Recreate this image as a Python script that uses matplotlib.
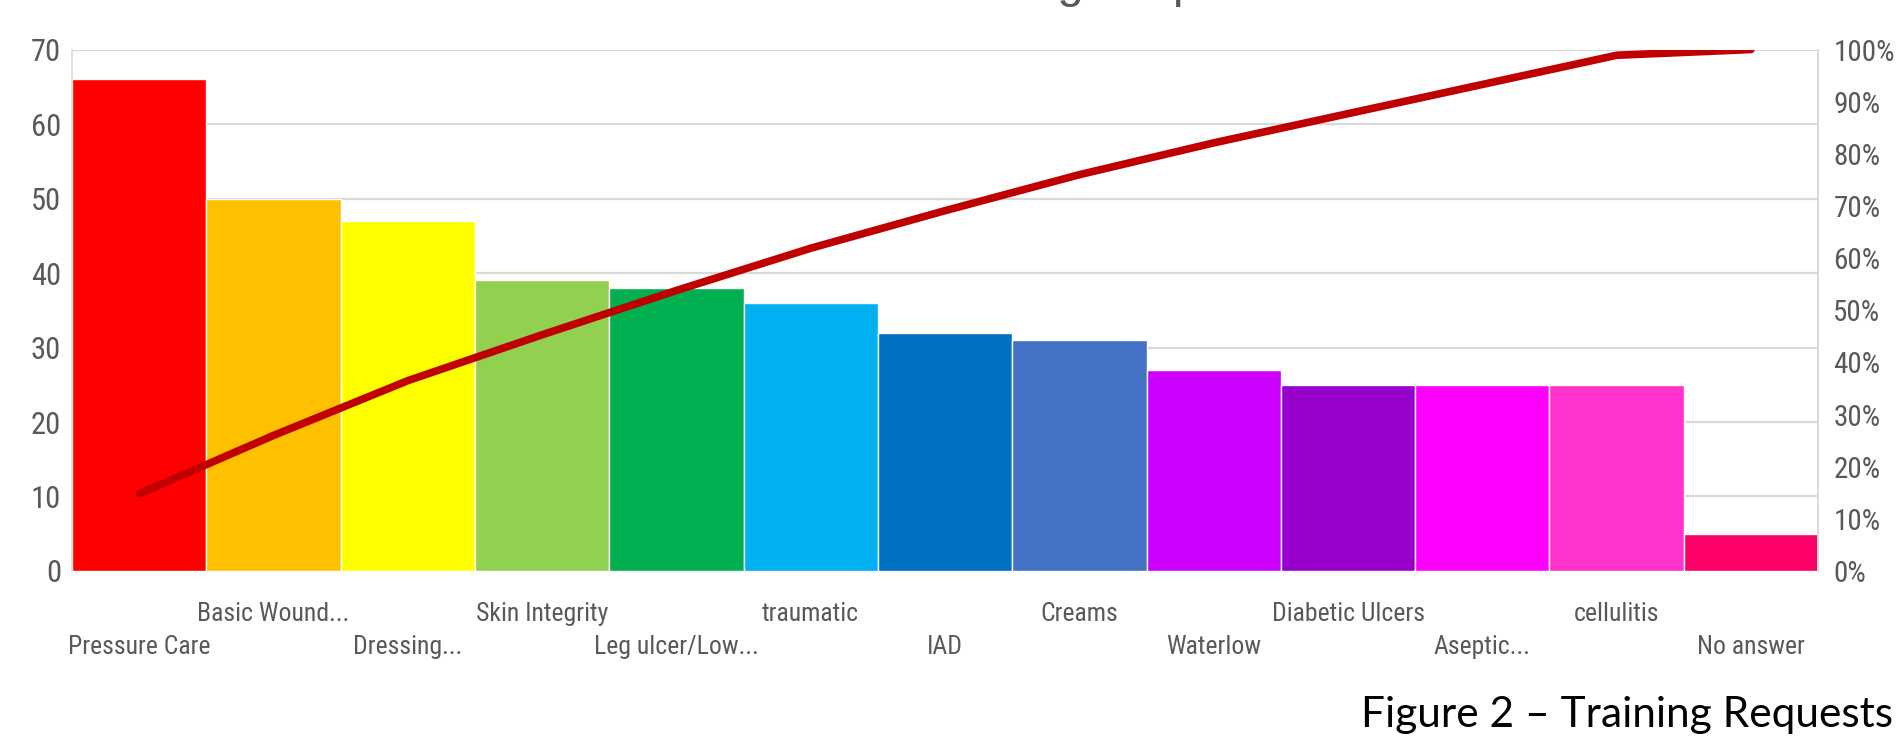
import matplotlib
matplotlib.use("Agg")
import matplotlib.pyplot as plt
from matplotlib import font_manager
from matplotlib.ticker import FixedLocator

# ------------------------------------------------------
# data
# ------------------------------------------------------
topics = ["Pressure Care", "Basic Wound...", "Dressing...", "Skin Integrity",
          "Leg ulcer/Low...", "traumatic", "IAD", "Creams", "Waterlow",
          "Diabetic Ulcers", "Aseptic...", "cellulitis", "No answer"]
requests = [66, 50, 47, 39, 38, 36, 32, 31, 27, 25, 25, 25, 5]
cum_share = [14.8, 26.0, 36.5, 45.3, 53.8, 61.9, 69.1, 76.0, 82.1, 87.7, 93.3, 98.9, 100.0]
bar_colors = ["#FF0000", "#FFC000", "#FFFF00", "#92D050", "#00B050", "#00B0F0",
              "#0070C0", "#4472C4", "#CC00FF", "#9900CC", "#FF00FF", "#FF33CC", "#FF0066"]
left_ticks = [0, 10, 20, 30, 40, 50, 60, 70]
right_ticks = [0, 10, 20, 30, 40, 50, 60, 70, 80, 90, 100]

# look for a narrow / condensed regular sans for the axis text
def find_narrow():
    prefs = ["liberationsansnarrow-regular", "robotocondensed-regular",
             "dejavusanscondensed.ttf", "notosans-condensed", "opensans-condensed"]
    files = [f for f in font_manager.fontManager.ttflist]
    for p in prefs:
        for f in files:
            if p in f.fname.lower().replace(" ", ""):
                return font_manager.FontProperties(fname=f.fname)
    for f in files:
        n = f.fname.lower()
        if ("narrow" in n or "condensed" in n) and "bold" not in n and "italic" not in n \
                and "oblique" not in n and f.style == "normal":
            return font_manager.FontProperties(fname=f.fname)
    return None

narrow = find_narrow()
if narrow is None:
    narrow = font_manager.FontProperties(family="Liberation Sans")
    scale = 0.85
else:
    scale = 1.0

grey = "#595959"
grid_grey = "#D9D9D9"

fig = plt.figure(figsize=(18.97, 7.36), dpi=100)
ax = fig.add_axes([0.038, 0.2242, 0.9204, 0.7085])

x = list(range(len(topics)))
ax.bar(x, requests, width=1.0, color=bar_colors, edgecolor="white", linewidth=1.0, zorder=2)
ax.set_xlim(-0.5, len(topics) - 0.5)
ax.set_ylim(0, 70)
ax.yaxis.set_major_locator(FixedLocator(left_ticks))
ax.grid(axis="y", color=grid_grey, linewidth=1.6, zorder=0)
ax.set_axisbelow(True)

# two-row category labels: odd ones on the upper row (major), even ones lower (minor)
upper = [i for i in x if i % 2 == 1]
lower = [i for i in x if i % 2 == 0]
ax.set_xticks(upper)
ax.set_xticklabels([topics[i] for i in upper], color=grey)
ax.set_xticks(lower, minor=True)
ax.set_xticklabels([topics[i] for i in lower], minor=True, color=grey)
for lab in ax.get_xticklabels() + ax.get_xticklabels(minor=True):
    lab.set_fontproperties(narrow)
    lab.set_fontsize(18.5 * scale)
ax.tick_params(axis="x", which="major", length=0, pad=22)
ax.tick_params(axis="x", which="minor", length=0, pad=46)
ax.tick_params(axis="y", length=0, pad=8, labelcolor=grey)
for lab in ax.get_yticklabels():
    lab.set_fontproperties(narrow)
    lab.set_fontsize(22 * scale)

for side in ["top", "bottom"]:
    ax.spines[side].set_visible(False)
for side in ["left", "right"]:
    ax.spines[side].set_color(grid_grey)
    ax.spines[side].set_linewidth(1.2)

# cumulative share line on the secondary axis
ax2 = ax.twinx()
ax2.plot(x, cum_share, color="#C00000", linewidth=5.5, solid_capstyle="round", zorder=3)
ax2.set_ylim(0, 100)
ax2.set_xlim(-0.5, len(topics) - 0.5)
ax2.yaxis.set_major_locator(FixedLocator(right_ticks))
ax2.set_yticklabels([f"{t}%" for t in right_ticks], color=grey)
for lab in ax2.get_yticklabels():
    lab.set_fontproperties(narrow)
    lab.set_fontsize(21 * scale)
ax2.tick_params(axis="y", length=0, pad=11)
for side in ["top", "bottom", "left"]:
    ax2.spines[side].set_visible(False)
ax2.spines["right"].set_color(grid_grey)
ax2.spines["right"].set_linewidth(1.2)

# chart title (mostly cut off at the top of the picture)
fig.text(915 / 1897, 1.004, "Training Requests", fontsize=34, color=grey,
         family="Liberation Sans", ha="left", va="baseline")

# caption
fig.text(1361 / 1897, 9 / 736, "Figure 2 \u2013 Training Requests", fontsize=30.5,
         color="black", family="Lato", ha="left", va="baseline")

fig.savefig("out.png", dpi=100)
